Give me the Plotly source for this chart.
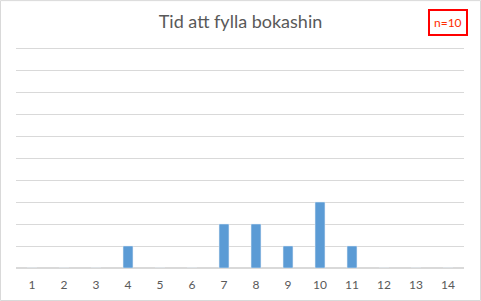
import plotly.graph_objects as go

categories = [str(i) for i in range(1, 15)]
counts = [0, 0, 0, 1, 0, 0, 2, 2, 1, 3, 1, 0, 0, 0]
title_text = "Tid att fylla bokashin"
note_text = "n=10"

W, H = 481, 301
ymax = 10.05
ml, mr, mb = 16, 17, 33
unit = 22.0
ph = unit * ymax
mt = H - mb - ph
pw = W - ml - mr

fig = go.Figure()
fig.add_trace(go.Bar(x=categories, y=counts, marker_color="#5b9bd5", width=0.31))

fig.update_layout(
    width=W, height=H,
    margin=dict(l=ml, r=mr, t=mt, b=mb, pad=0, autoexpand=False),
    paper_bgcolor="white", plot_bgcolor="white",
    showlegend=False,
    title=dict(text=title_text, x=0.5, xanchor="center", y=1 - 22 / H, yanchor="middle",
               font=dict(family="Lato, Calibri, sans-serif", size=18, color="#595959")),
    xaxis=dict(type="category", showgrid=False, zeroline=False, showline=False,
               ticks="", ticklabelstandoff=8, automargin=False,
               tickfont=dict(family="Lato, Calibri, sans-serif", size=12, color="#595959"),
               range=[-0.5, 13.5]),
    yaxis=dict(range=[0, ymax], dtick=1, showgrid=True, gridcolor="#d9d9d9", gridwidth=1,
               automargin=False,
               zeroline=True, zerolinecolor="#d9d9d9", showticklabels=False, ticks="", showline=False),
    annotations=[dict(text=note_text, xref="paper", yref="paper",
                      x=(448 - ml) / pw, y=(H - mb - 22) / ph,
                      showarrow=False, xanchor="center", yanchor="middle",
                      font=dict(family="Lato, Calibri, sans-serif", size=12, color="#ff2a00"),
                      bordercolor="#ff0000", borderwidth=2, borderpad=4, bgcolor="white")],
    shapes=[dict(type="rect", xref="paper", yref="paper",
                 x0=(0.5 - ml) / pw, x1=(W - 0.5 - ml) / pw,
                 y0=-(mb - 0.5) / ph, y1=1 + (mt - 0.5) / ph,
                 line=dict(color="#d9d9d9", width=1), layer="below")],
)

fig.write_html("out.html")
